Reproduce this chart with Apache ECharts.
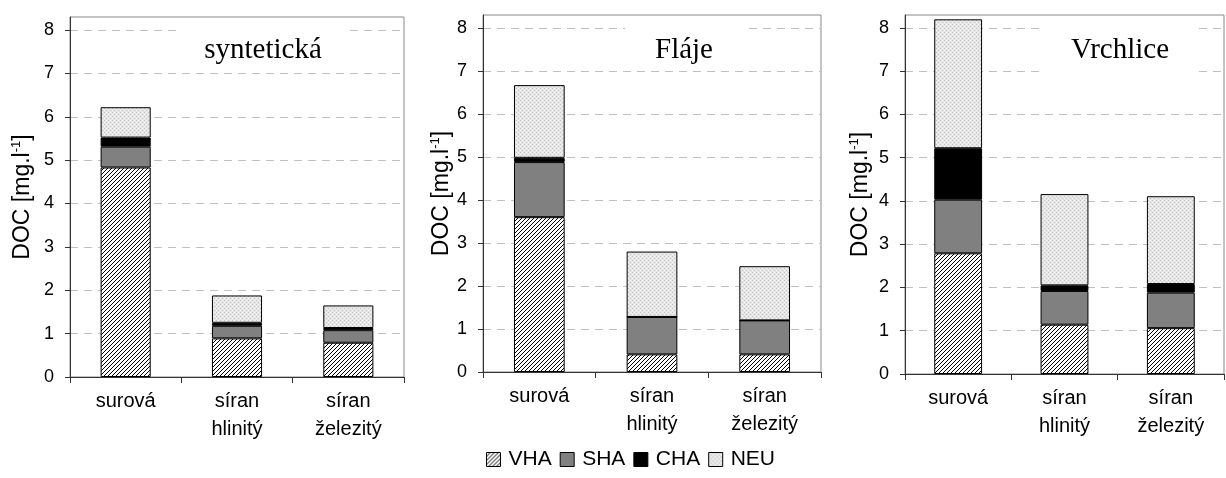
<!DOCTYPE html>
<html>
<head>
<meta charset="utf-8">
<script src="https://cdn.jsdelivr.net/npm/echarts@6/dist/echarts.min.js"></script>
<style>
  html, body { margin: 0; padding: 0; background: #fff; }
  #chart { width: 1226px; height: 478px; }
</style>
</head>
<body>
<div id="chart"></div>
<script>
// data (segment heights of each stacked bar)
const categories = ['surová', 'síran\nhlinitý', 'síran\nželezitý'];
const panelTitles = ['syntetická', 'Fláje', 'Vrchlice'];
const seriesNames = ['VHA', 'SHA', 'CHA', 'NEU'];

const syntetickaVHA = [4.83, 0.89, 0.79];
const syntetickaSHA = [0.48, 0.29, 0.29];
const syntetickaCHA = [0.21, 0.07, 0.05];
const syntetickaNEU = [0.70, 0.63, 0.52];

const flajeVHA = [3.60, 0.41, 0.41];
const flajeSHA = [1.28, 0.87, 0.79];
const flajeCHA = [0.10, 0, 0];
const flajeNEU = [1.69, 1.52, 1.26];

const vrchliceVHA = [2.79, 1.14, 1.06];
const vrchliceSHA = [1.24, 0.78, 0.82];
const vrchliceCHA = [1.19, 0.13, 0.20];
const vrchliceNEU = [2.98, 2.11, 2.03];

const panelData = [
  [syntetickaVHA, syntetickaSHA, syntetickaCHA, syntetickaNEU],
  [flajeVHA, flajeSHA, flajeCHA, flajeNEU],
  [vrchliceVHA, vrchliceSHA, vrchliceCHA, vrchliceNEU]
];

const sans = '"Liberation Sans", Arial, sans-serif';
const serif = '"Liberation Serif", "Times New Roman", serif';

// fill patterns
function hatchPattern() {
  const c = document.createElement('canvas');
  c.width = 4; c.height = 4;
  const ctx = c.getContext('2d');
  ctx.fillStyle = '#fff';
  ctx.fillRect(0, 0, 4, 4);
  ctx.strokeStyle = '#000';
  ctx.lineWidth = 1;
  ctx.beginPath();
  ctx.moveTo(-1, 5); ctx.lineTo(5, -1);
  ctx.moveTo(-1, 1); ctx.lineTo(1, -1);
  ctx.moveTo(3, 5); ctx.lineTo(5, 3);
  ctx.stroke();
  return c;
}
function dotPattern() {
  const c = document.createElement('canvas');
  c.width = 4; c.height = 4;
  const ctx = c.getContext('2d');
  ctx.fillStyle = '#e6e6e6';
  ctx.fillRect(0, 0, 4, 4);
  ctx.fillStyle = '#c4c4c4';
  ctx.fillRect(0, 0, 1, 1);
  ctx.fillRect(2, 2, 1, 1);
  ctx.fillStyle = '#f4f4f4';
  ctx.fillRect(2, 0, 1, 1);
  ctx.fillRect(0, 2, 1, 1);
  return c;
}

const fills = [
  { image: hatchPattern(), repeat: 'repeat' },
  '#808080',
  '#000000',
  { image: dotPattern(), repeat: 'repeat' }
];

const grids = [
  { left: 70, top: 17, width: 334, height: 360 },
  { left: 483, top: 15, width: 338, height: 357 },
  { left: 905, top: 15, width: 319, height: 359 }
];
const nameGaps = [35, 29, 32];
const titleX = [237, 654, 1094];
const titlePad = [[10, 26, 3, 26], [10, 30, 3, 30], [10, 26, 10, 26]];

const myChart = echarts.init(document.getElementById('chart'));

const option = {
  animation: false,
  backgroundColor: '#fff',
  title: panelTitles.map((t, i) => ({
    text: t,
    left: titleX[i],
    top: 26,
    textAlign: 'center',
    backgroundColor: '#fff',
    padding: titlePad[i],
    textStyle: { fontFamily: serif, fontSize: 29, fontWeight: 'normal', color: '#000' }
  })),
  legend: {
    left: 481,
    top: 444,
    icon: 'rect',
    itemWidth: 14,
    itemHeight: 14,
    itemGap: 8,
    textStyle: { fontFamily: sans, fontSize: 21, color: '#000', padding: [0, 0, 0, 3] },
    data: seriesNames.map((n, k) => ({
      name: n,
      itemStyle: { color: fills[k], borderColor: '#000', borderWidth: 1 }
    }))
  },
  grid: grids.map(g => Object.assign({
    show: true, borderColor: '#888', borderWidth: 1, containLabel: false
  }, g)),
  xAxis: grids.map((g, i) => ({
    type: 'category',
    gridIndex: i,
    data: categories,
    axisLine: { lineStyle: { color: '#333', width: 1 } },
    axisTick: { show: true, length: 6, lineStyle: { color: '#333' } },
    axisLabel: {
      interval: 0, margin: 10, color: '#000',
      fontFamily: sans, fontSize: 20, lineHeight: 28
    }
  })),
  yAxis: grids.map((g, i) => ({
    type: 'value',
    gridIndex: i,
    min: 0, max: 8.3, interval: 1,
    name: '{a|DOC [mg.l}{s|-1}{a|]}',
    nameLocation: 'middle',
    nameGap: nameGaps[i],
    nameRotate: 90,
    nameTextStyle: {
      rich: {
        a: { fontFamily: sans, fontSize: 23, color: '#000', lineHeight: 25 },
        s: { fontFamily: sans, fontSize: 13, color: '#000', verticalAlign: 'top', lineHeight: 14 }
      }
    },
    axisLine: { show: true, lineStyle: { color: '#333', width: 1 } },
    axisTick: { show: true, length: 5, lineStyle: { color: '#333' } },
    axisLabel: {
      margin: 16, color: '#000', fontFamily: sans, fontSize: 18,
      showMaxLabel: false
    },
    splitLine: {
      show: true, showMaxLine: false,
      lineStyle: { color: '#c0c0c0', type: [8, 6], width: 1 }
    }
  })),
  series: []
};

panelData.forEach((vals, i) => {
  seriesNames.forEach((n, k) => {
    option.series.push({
      name: n,
      type: 'bar',
      xAxisIndex: i,
      yAxisIndex: i,
      stack: 'panel' + i,
      barWidth: '45%',
      data: vals[k],
      itemStyle: { color: fills[k], borderColor: '#000', borderWidth: 1 },
      emphasis: { disabled: true }
    });
  });
});

myChart.setOption(option);
</script>
</body>
</html>
